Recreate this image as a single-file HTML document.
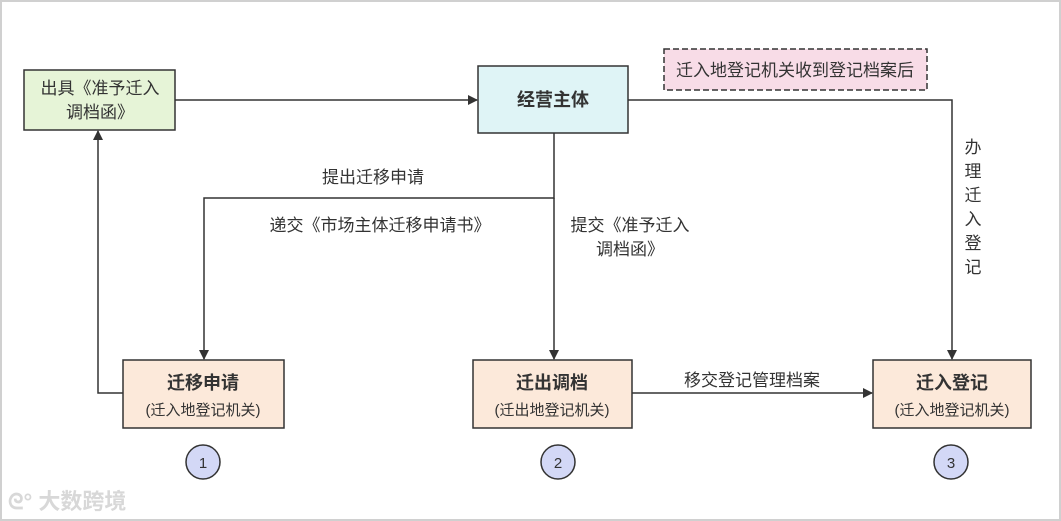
<!DOCTYPE html>
<html><head><meta charset="utf-8"><style>
html,body{margin:0;padding:0;background:#fff}
svg{display:block}
text{font-family:"Liberation Sans","Noto Sans CJK SC",sans-serif;fill:#333}
</style></head><body>
<svg width="1061" height="521" viewBox="0 0 1061 521">
<defs><marker id="a" markerWidth="10" markerHeight="10" refX="9" refY="5" orient="auto" markerUnits="userSpaceOnUse"><path d="M0,0 L10,5 L0,10 Z" fill="#333"/></marker></defs>
<rect x="1" y="1" width="1059" height="519" fill="#fff" stroke="#d0d0d0" stroke-width="2"/>
<g stroke="#333" stroke-width="1.5" fill="none">
<line x1="175" y1="100" x2="477" y2="100" marker-end="url(#a)"/>
<polyline points="554,133 554,198 204,198 204,359" marker-end="url(#a)"/>
<line x1="554" y1="198" x2="554" y2="359" marker-end="url(#a)"/>
<polyline points="123,393 98,393 98,131" marker-end="url(#a)"/>
<polyline points="628,100 952,100 952,359" marker-end="url(#a)"/>
<line x1="632" y1="393" x2="872" y2="393" marker-end="url(#a)"/>
</g>
<g stroke="#333" stroke-width="1.5">
<rect x="24" y="70" width="151" height="60" fill="#e6f4d7"/>
<rect x="478" y="66" width="150" height="67" fill="#dff4f6"/>
<rect x="664" y="49" width="263" height="41" fill="#f8dce7" stroke-dasharray="6,3"/>
<rect x="123" y="360" width="161" height="68" fill="#fce9da"/>
<rect x="473" y="360" width="159" height="68" fill="#fce9da"/>
<rect x="873" y="360" width="158" height="68" fill="#fce9da"/>
<circle cx="203" cy="462" r="17" fill="#d3d8f6"/>
<circle cx="558" cy="462" r="17" fill="#d3d8f6"/>
<circle cx="951" cy="462" r="17" fill="#d3d8f6"/>
</g>
<g font-size="17" text-anchor="middle">
<text x="100" y="94">出具《准予迁入</text>
<text x="100" y="118">调档函》</text>
<text x="553" y="106" font-weight="bold" font-size="18">经营主体</text>
<text x="795" y="76">迁入地登记机关收到登记档案后</text>
<text x="373" y="183">提出迁移申请</text>
<text x="380" y="231">递交《市场主体迁移申请书》</text>
<text x="630" y="231">提交《准予迁入</text>
<text x="630" y="255">调档函》</text>
<text x="973" y="153">办</text>
<text x="973" y="177">理</text>
<text x="973" y="201">迁</text>
<text x="973" y="225">入</text>
<text x="973" y="249">登</text>
<text x="973" y="273">记</text>
<text x="752" y="386">移交登记管理档案</text>
<text x="203" y="389" font-weight="bold" font-size="18">迁移申请</text>
<text x="203" y="415" font-size="15">(迁入地登记机关)</text>
<text x="552" y="389" font-weight="bold" font-size="18">迁出调档</text>
<text x="552" y="415" font-size="15">(迁出地登记机关)</text>
<text x="952" y="389" font-weight="bold" font-size="18">迁入登记</text>
<text x="952" y="415" font-size="15">(迁入地登记机关)</text>
<text x="203" y="468" font-size="15">1</text>
<text x="558" y="468" font-size="15">2</text>
<text x="951" y="468" font-size="15">3</text>
</g>
<text x="8" y="509" font-size="22" font-weight="bold" style="fill:#d8d8d8">ᘓ° 大数跨境</text>
</svg>
</body></html>
